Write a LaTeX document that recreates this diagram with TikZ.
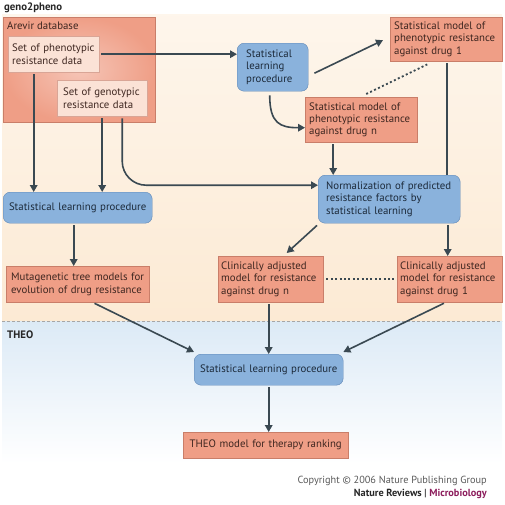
\documentclass[tikz,border=0pt]{standalone}
\usepackage{fontspec}
\setmainfont{PT Sans}
\usetikzlibrary{arrows.meta}
\definecolor{salfill}{HTML}{EF9E86}
\definecolor{salline}{HTML}{C97E69}
\definecolor{saltext}{HTML}{3E2620}
\definecolor{lightsal}{HTML}{FBE2D6}
\definecolor{bluefill}{HTML}{8AB2DC}
\definecolor{blueline}{HTML}{5F87B6}
\definecolor{bluetext}{HTML}{1C2A3A}
\definecolor{arrcol}{HTML}{3A4952}
\definecolor{peach}{HTML}{FCEAD4}
\definecolor{skyblue}{HTML}{DCEAF6}
\definecolor{micro}{HTML}{8C1D5C}
\hyphenpenalty=10000
\begin{document}
\begin{tikzpicture}[x=1pt,y=-1pt,
  salbox/.style={draw=salline,fill=salfill,text=saltext,anchor=north west,inner xsep=5pt,inner ysep=0pt,align=left,font=\fontsize{10.8}{12.4}\selectfont},
  setbox/.style={salbox,fill=lightsal,draw=salline!70},
  bluebox/.style={salbox,draw=blueline,fill=bluefill,text=bluetext,rounded corners=7pt},
  arr/.style={draw=arrcol,line width=1.6pt,-{Triangle[length=7pt,width=7.5pt]}},
  link/.style={draw=arrcol,line width=1.6pt},
  dotlink/.style={draw=arrcol,line width=1.8pt,dash pattern=on 2pt off 2.4pt},
  tag/.style={anchor=north west,inner sep=0pt,font=\bfseries\fontsize{10.8}{12}\selectfont,text=black!85}]
\path[use as bounding box] (0,0) rectangle (505,504);
\fill[top color=peach!45,bottom color=peach] (2,14) rectangle (502,321);
\fill[top color=skyblue,bottom color=white] (2,321) rectangle (502,464);
\draw[black!35,line width=.8pt,dash pattern=on 3pt off 2pt] (2,321) -- (502,321);
\node[tag] (geno2pheno) at (4,3) {geno2pheno};
\node[tag] (theolabel) at (7,331) {THEO};

\node[salbox,draw=salline,inner color=salfill!60,outer color=salfill,minimum width=152,minimum height=105] (arevir) at (3,17) {};
\node[anchor=north west,inner sep=0pt,font=\fontsize{10.8}{12}\selectfont,text=saltext] (arevirtitle) at (7,22) {Arevir database};
\node[setbox,inner xsep=4pt,text width=83,minimum height=36] (pheno) at (8,36) {Set of phenotypic\\resistance data};
\node[setbox,inner xsep=6pt,text width=78,minimum height=36] (geno) at (57,80) {Set of genotypic\\resistance data};

\node[bluebox,inner xsep=9pt,text width=53,minimum height=48] (stat1) at (237,43) {Statistical\\learning\\procedure};
\node[salbox,inner xsep=4pt,text width=104,minimum height=44] (drug1) at (390,17) {Statistical model of\\phenotypic resistance\\against drug 1};
\node[salbox,inner xsep=4pt,text width=104,minimum height=45] (drugn) at (305,97) {Statistical model of\\phenotypic resistance\\against drug n};
\node[bluebox,inner xsep=8pt,text width=126,minimum height=48] (norm) at (318,175) {Normalization of predicted\\resistance factors by\\statistical learning};
\node[bluebox,align=center,text width=139,minimum height=31] (stat2) at (3,192) {Statistical learning procedure};
\node[salbox,text width=133,minimum height=36] (muta) at (6,266) {Mutagenetic tree models for\\evolution of drug resistance};
\node[salbox,inner xsep=3pt,text width=99,minimum height=46] (clinn) at (218,256) {Clinically adjusted\\model for resistance\\against drug n};
\node[salbox,inner xsep=3pt,text width=99,minimum height=46] (clin1) at (397,256) {Clinically adjusted\\model for resistance\\against drug 1};
\node[bluebox,align=center,text width=139,minimum height=31] (stat3) at (194,354) {Statistical learning procedure};
\node[salbox,align=center,text width=155,minimum height=26] (theo) at (183,432) {THEO model for therapy ranking};

\draw[arr,shorten <=2pt] (pheno.east) -- (pheno.east -| stat1.west);
\draw[arr] ([shift={(6,6)}]stat1.east) -- ([shift={(-7,1)}]drug1.west);
\draw[arr] ([shift={(-3,4)}]stat1.south) .. controls ([shift={(-3,32)}]stat1.south) and ([shift={(-25,8)}]drugn.west) .. ([shift={(0,8)}]drugn.west);
\draw[dotlink] ([shift={(5,-3)}]drugn.north) -- ([shift={(-19,3)}]drug1.south);
\draw[arr,shorten <=2pt] ([xshift=-28]drugn.south) -- ([xshift=-28]drugn.south |- norm.north);
\draw[link,shorten <=2pt] ([xshift=1]drug1.south) -- ([xshift=1]drug1.south |- norm.north);
\draw[arr,shorten <=2pt] ([xshift=-20]pheno.south) -- ([xshift=-20]pheno.south |- stat2.north);
\draw[arr,shorten <=2pt] (geno.south) -- (geno.south |- stat2.north);
\draw[arr,shorten <=2pt,rounded corners=24pt] ([xshift=20]geno.south) |- ([yshift=14]norm.west);
\draw[arr,shorten <=2pt] ([xshift=-4]stat2.south) -- ([xshift=-4]muta.north);
\draw[arr] ([shift={(-1,2)}]norm.south west) -- ([shift={(16,-3)}]clinn.north);
\draw[arr,shorten <=2pt] ([xshift=-2]clin1.north |- norm.south) -- ([xshift=-2]clin1.north);
\draw[dotlink,shorten <=3pt,shorten >=3pt] (clinn.east) -- (clin1.west);
\draw[arr,shorten <=2pt] ([xshift=15]muta.south) -- ([shift={(0,-2)}]stat3.north west);
\draw[arr,shorten <=2pt] (clinn.south -| stat3.north) -- (stat3.north);
\draw[arr,shorten <=2pt] ([xshift=-4]clin1.south) -- ([shift={(0,-2)}]stat3.north east);
\draw[arr,shorten <=2pt] (stat3.south) -- (stat3.south |- theo.north);

\node[anchor=north east,inner sep=0pt,align=right,font=\fontsize{10.3}{12.5}\selectfont,text=black!65] (copyright) at (487,476) {Copyright \textcopyright\ 2006 Nature Publishing Group\\\textbf{\textcolor{black!85}{Nature Reviews} | \textcolor{micro}{Microbiology}}};
\end{tikzpicture}
\end{document}
